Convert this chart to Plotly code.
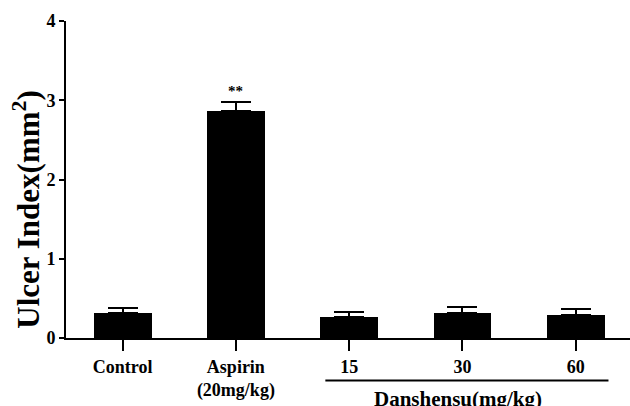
import plotly.graph_objects as go

# Ulcer index by treatment group (mean ± SEM)
groups = ["Control", "Aspirin", "15", "30", "60"]
ulcer_index = [0.31, 2.86, 0.26, 0.32, 0.29]
sem = [0.07, 0.12, 0.07, 0.07, 0.07]
tick_labels = [
    "<b>Control</b>",
    "<b>Aspirin</b><br><b>(20mg/kg)</b>",
    "<b>15</b>",
    "<b>30</b>",
    "<b>60</b>",
]
significance = ["", "**", "", "", ""]
y_ticks = [0, 1, 2, 3, 4]

serif = "Liberation Serif, Times New Roman, serif"

fig = go.Figure()
fig.add_trace(go.Bar(
    x=list(range(len(groups))),
    y=ulcer_index,
    width=0.51,
    marker=dict(color="black", line=dict(width=0)),
    error_y=dict(type="data", array=sem, arrayminus=[0] * len(sem), symmetric=False,
                 color="black", thickness=2, width=15),
    showlegend=False,
))

# significance markers above the error bars
for i, s in enumerate(significance):
    if s:
        fig.add_annotation(x=i, y=ulcer_index[i] + sem[i], text=f"<b>{s}</b>", showarrow=False,
                           yshift=11, font=dict(family=serif, size=15, color="black"))

# group bracket for the Danshensu doses
fig.add_shape(type="line", xref="x", yref="paper", x0=1.79, x1=4.29, y0=-0.134, y1=-0.134,
              line=dict(color="black", width=2))
fig.add_annotation(xref="x", yref="paper", x=2.96, y=-0.148, yanchor="top",
                   text="<b>Danshensu(mg/kg)</b>", showarrow=False,
                   font=dict(family=serif, size=21, color="black"))

# rotated y-axis title
fig.add_annotation(xref="paper", yref="paper", x=-0.069, y=0.405,
                   xanchor="center", yanchor="middle", textangle=-90,
                   text="<b>Ulcer Index(mm<sup>2</sup>)</b>", showarrow=False,
                   font=dict(family=serif, size=31, color="black"))

fig.update_layout(
    width=630, height=406,
    margin=dict(l=66, r=0, t=21, b=68),
    paper_bgcolor="white", plot_bgcolor="white",
    bargap=0,
    xaxis=dict(
        range=[-0.5, 4.48],
        tickmode="array", tickvals=list(range(len(groups))), ticktext=tick_labels,
        showline=True, linecolor="black", linewidth=2,
        ticks="outside", ticklen=11, tickwidth=2, tickcolor="black",
        tickfont=dict(family=serif, size=18, color="black"),
        showgrid=False, zeroline=False,
    ),
    yaxis=dict(
        range=[0, 4],
        tickmode="array", tickvals=y_ticks, ticktext=[f"<b>{v}</b>" for v in y_ticks],
        showline=True, linecolor="black", linewidth=2,
        ticks="outside", ticklen=5, tickwidth=2, tickcolor="black",
        tickfont=dict(family=serif, size=18, color="black"),
        showgrid=False, zeroline=False,
    ),
)

fig.write_html("out.html")
